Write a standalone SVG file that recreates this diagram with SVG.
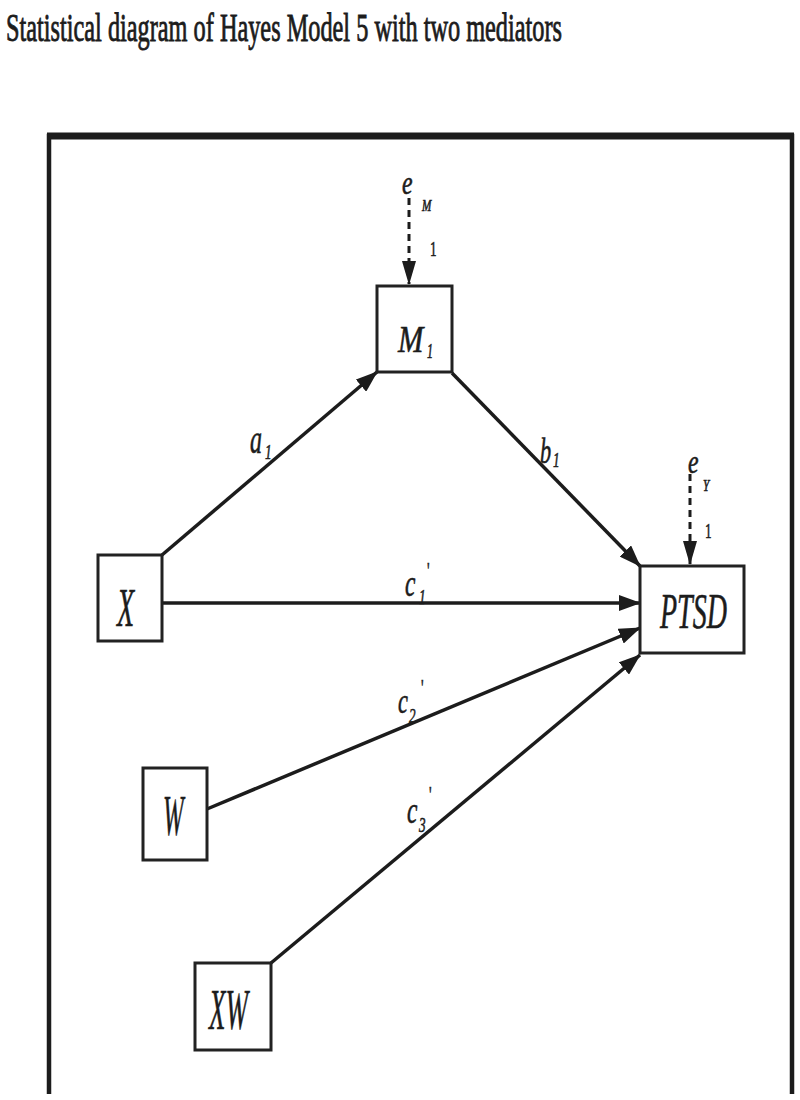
<svg xmlns="http://www.w3.org/2000/svg" width="800" height="1100" viewBox="0 0 800 1100">
<style>
.t{font-family:"Liberation Serif","Times New Roman",serif;fill:#1c1c1c;stroke:#1c1c1c;stroke-width:0.6}
.i{font-style:italic}
.box{fill:#fff;stroke:#222;stroke-width:3}
.ln{fill:none;stroke:#1c1c1c;stroke-width:3.5}
.dash{fill:none;stroke:#1c1c1c;stroke-width:3;stroke-dasharray:7 5}
.frame{fill:none;stroke:#1c1c1c;stroke-width:4.5}
</style>
<defs>
<marker id="ah" markerUnits="userSpaceOnUse" markerWidth="22" markerHeight="16" refX="21" refY="8" orient="auto">
<path d="M0,0 L22,8 L0,16 z" fill="#1c1c1c"/>
</marker>
<marker id="ahd" markerUnits="userSpaceOnUse" markerWidth="24" markerHeight="14" refX="23" refY="7" orient="auto">
<path d="M0,0 L24,7 L0,14 z" fill="#1c1c1c"/>
</marker>
</defs>
<rect width="800" height="1100" fill="#fff"/>
<text class="t" transform="translate(6,41) scale(1,1.5)" font-size="26.5" textLength="556" lengthAdjust="spacingAndGlyphs">Statistical diagram of Hayes Model 5 with two mediators</text>
<g id="frame">
<path class="frame" d="M49,1094 V136 H792 V1094"/>
<line x1="47" y1="136" x2="794" y2="136" stroke="#1c1c1c" stroke-width="7"/>
</g>
<g id="connectors">
<line class="ln" x1="162" y1="555" x2="377" y2="372" marker-end="url(#ah)"/>
<line class="ln" x1="452" y1="373" x2="640" y2="566" marker-end="url(#ah)"/>
<line class="ln" x1="162" y1="603" x2="640" y2="603" stroke-width="5" marker-end="url(#ah)"/>
<line class="ln" x1="207" y1="809" x2="640" y2="628" marker-end="url(#ah)"/>
<line class="ln" x1="271" y1="963" x2="640" y2="655" marker-end="url(#ah)"/>
<line class="dash" x1="409" y1="198" x2="409" y2="284" marker-end="url(#ahd)"/>
<line class="dash" x1="690" y1="474" x2="690" y2="564" marker-end="url(#ahd)"/>
</g>
<g id="labels">
<text class="t i" transform="translate(250,453) scale(0.6,1)" font-size="40">a</text>
<text class="t i" transform="translate(265,459) scale(0.6,1)" font-size="22">1</text>
<text class="t i" transform="translate(540,463) scale(0.62,1)" font-size="36">b</text>
<text class="t i" transform="translate(553,467) scale(0.6,1)" font-size="22">1</text>
<text class="t i" transform="translate(405,596) scale(0.62,1)" font-size="38">c</text>
<text class="t i" transform="translate(419,604) scale(0.6,1)" font-size="22">1</text>
<text class="t" transform="translate(427,578) scale(0.6,1)" font-size="24">'</text>
<text class="t i" transform="translate(398,713) scale(0.62,1)" font-size="36">c</text>
<text class="t i" transform="translate(409,723) scale(0.6,1)" font-size="22">2</text>
<text class="t" transform="translate(421,695) scale(0.6,1)" font-size="24">'</text>
<text class="t i" transform="translate(407,823) scale(0.62,1)" font-size="38">c</text>
<text class="t i" transform="translate(419,832) scale(0.6,1)" font-size="22">3</text>
<text class="t" transform="translate(429,802) scale(0.6,1)" font-size="24">'</text>
</g>
<g id="eM">
<text class="t i" transform="translate(402,194) scale(0.7,1)" font-size="34">e</text>
<text class="t i" transform="translate(422,211) scale(0.7,1)" font-size="16">M</text>
<text class="t" transform="translate(430,256) scale(0.6,1)" font-size="22">1</text>
</g>
<g id="eY">
<text class="t i" transform="translate(688,473) scale(0.7,1)" font-size="34">e</text>
<text class="t i" transform="translate(703,491) scale(0.7,1)" font-size="16">Y</text>
<text class="t" transform="translate(705,538) scale(0.6,1)" font-size="22">1</text>
</g>
<g id="M1">
<rect class="box" x="377" y="286" width="75" height="86"/>
<text class="t i" transform="translate(398,352) scale(0.8,1)" font-size="38">M</text>
<text class="t i" transform="translate(427,358) scale(0.6,1)" font-size="20">1</text>
</g>
<g id="PTSD">
<rect class="box" x="640" y="566" width="104" height="87"/>
<text class="t i" transform="translate(660,628) scale(0.56,1)" font-size="50">PTSD</text>
</g>
<g id="X">
<rect class="box" x="98" y="555" width="64" height="86"/>
<text class="t i" transform="translate(117,626) scale(0.52,1)" font-size="54">X</text>
</g>
<g id="W">
<rect class="box" x="143" y="768" width="64" height="92"/>
<text class="t i" transform="translate(163,835) scale(0.44,1)" font-size="56">W</text>
</g>
<g id="XW">
<rect class="box" x="195" y="963" width="76" height="87"/>
<text class="t i" transform="translate(209,1029) scale(0.48,1)" font-size="56">XW</text>
</g>
</svg>
